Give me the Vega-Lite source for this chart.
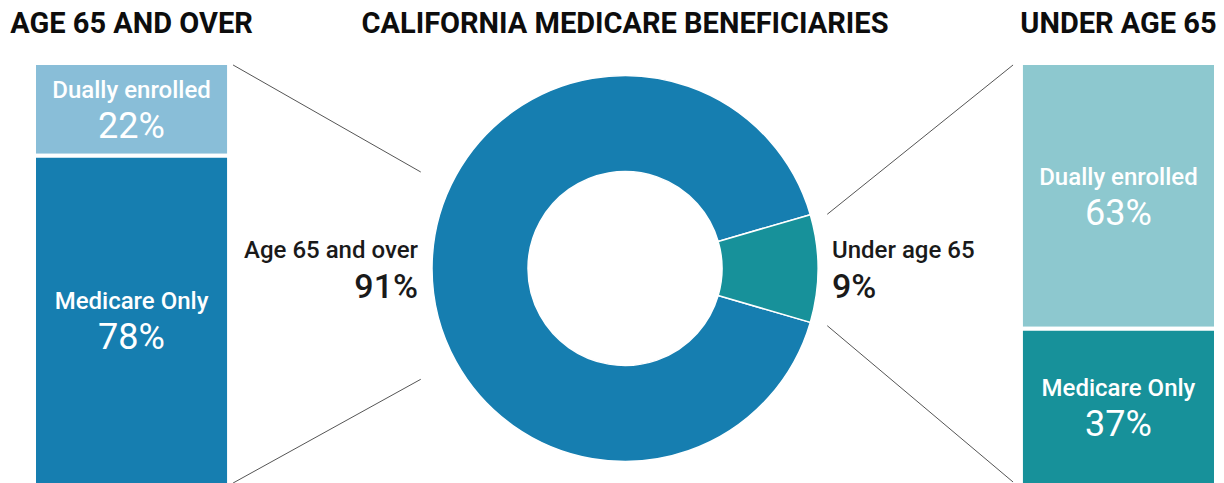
{
  "$schema": "https://vega.github.io/schema/vega-lite/v6.json",
  "width": 1182,
  "height": 422,
  "autosize": "none",
  "padding": {"left": 34, "top": 63, "right": 8, "bottom": 0},
  "background": "white",
  "config": {"view": {"stroke": null}, "font": "Roboto"},
  "datasets": {
    "split": [
      {"group": "Age 65 and over", "category": "Dually enrolled", "segment": "Age 65 and over: Dually enrolled", "share": 0.22},
      {"group": "Age 65 and over", "category": "Medicare Only", "segment": "Age 65 and over: Medicare Only", "share": 0.78},
      {"group": "Under age 65", "category": "Dually enrolled", "segment": "Under age 65: Dually enrolled", "share": 0.63},
      {"group": "Under age 65", "category": "Medicare Only", "segment": "Under age 65: Medicare Only", "share": 0.37}
    ],
    "total": [
      {"group": "Age 65 and over", "share": 0.91},
      {"group": "Under age 65", "share": 0.09}
    ],
    "links": [
      {"link": "Age 65 and over top", "x_from": 0.1684, "y_from": 0.9953, "x_to": 0.3272, "y_to": 0.7417},
      {"link": "Age 65 and over bottom", "x_from": 0.1684, "y_from": 0.0047, "x_to": 0.3272, "y_to": 0.2505},
      {"link": "Under age 65 top", "x_from": 0.6711, "y_from": 0.6415, "x_to": 0.8283, "y_to": 0.9953},
      {"link": "Under age 65 bottom", "x_from": 0.6711, "y_from": 0.3775, "x_to": 0.8283, "y_to": 0.0071}
    ]
  },
  "resolve": {"scale": {"x": "independent"}},
  "layer": [
    {
      "data": {"name": "links"},
      "mark": {"type": "rule", "color": "#555555", "strokeWidth": 1},
      "encoding": {
        "x": {"field": "x_from", "type": "quantitative", "scale": {"domain": [0, 1], "nice": false, "zero": false}, "axis": null},
        "x2": {"field": "x_to"},
        "y": {"field": "y_from", "type": "quantitative", "axis": null},
        "y2": {"field": "y_to"}
      }
    },
    {
      "layer": [
        {
          "data": {"name": "split"},
          "mark": {"type": "bar", "stroke": "white", "strokeWidth": 4},
          "encoding": {
            "x": {
              "field": "group",
              "type": "nominal",
              "scale": {"domain": ["Age 65 and over", "California Medicare beneficiaries", "Under age 65"], "paddingInner": 0.6047, "paddingOuter": 0},
              "axis": {"orient": "top", "domain": false, "ticks": false, "grid": false, "title": null, "labelAngle": 0, "labelExpr": "upper(datum.label)", "labelFont": "Roboto", "labelFontSize": 29, "labelFontWeight": "bold", "labelColor": "#0d0d0d", "labelPadding": 31, "labelBaseline": "alphabetic", "labelLimit": 0, "labelOverlap": false}
            },
            "y": {"field": "share", "type": "quantitative", "stack": "zero", "scale": {"domain": [0, 1], "nice": false}, "axis": null},
            "color": {
              "field": "segment",
              "type": "nominal",
              "scale": {
                "domain": ["Age 65 and over", "Under age 65", "Age 65 and over: Dually enrolled", "Age 65 and over: Medicare Only", "Under age 65: Dually enrolled", "Under age 65: Medicare Only"],
                "range": ["#167eb0", "#17919a", "#89bed8", "#167eb0", "#8dc8cf", "#17919a"]
              },
              "legend": null
            },
            "order": {"field": "category", "sort": "descending"}
          }
        },
        {
          "data": {"name": "split"},
          "mark": {"type": "text", "font": "Roboto", "fontSize": 24, "fontWeight": 500, "color": "white", "baseline": "alphabetic", "dy": -11},
          "encoding": {
            "x": {"field": "group", "type": "nominal"},
            "y": {"field": "share", "type": "quantitative", "stack": "zero", "bandPosition": 0.5, "axis": null},
            "detail": {"field": "category"},
            "order": {"field": "category", "sort": "descending"},
            "text": {"field": "category"}
          }
        },
        {
          "data": {"name": "split"},
          "mark": {"type": "text", "font": "Roboto", "fontSize": 36, "fontWeight": 400, "color": "white", "baseline": "alphabetic", "dy": 29},
          "encoding": {
            "x": {"field": "group", "type": "nominal"},
            "y": {"field": "share", "type": "quantitative", "stack": "zero", "bandPosition": 0.5, "axis": null},
            "detail": {"field": "category"},
            "order": {"field": "category", "sort": "descending"},
            "text": {"field": "share", "type": "quantitative", "format": ".0%"}
          }
        },
        {
          "data": {"name": "total"},
          "mark": {"type": "arc", "outerRadius": 193, "innerRadius": 97, "stroke": "white", "strokeWidth": 1.5},
          "encoding": {
            "x": {"datum": "California Medicare beneficiaries", "type": "nominal"},
            "y": {"datum": 0.513, "type": "quantitative", "axis": null},
            "theta": {"field": "share", "type": "quantitative", "stack": "zero", "scale": {"range": [1.2881, 7.5713]}},
            "color": {"field": "group", "type": "nominal", "legend": null},
            "order": {"field": "share", "sort": "ascending"}
          }
        },
        {
          "data": {"name": "total"},
          "mark": {"type": "text", "radius": 207, "font": "Roboto", "fontSize": 24, "fontWeight": 500, "color": "#1a1a1a", "baseline": "alphabetic", "dy": -11, "align": {"expr": "datum.group == 'Age 65 and over' ? 'right' : 'left'"}},
          "encoding": {
            "x": {"datum": "California Medicare beneficiaries", "type": "nominal"},
            "y": {"datum": 0.513, "type": "quantitative", "axis": null},
            "theta": {"field": "share", "type": "quantitative", "stack": "zero"},
            "detail": {"field": "group"},
            "order": {"field": "share", "sort": "ascending"},
            "text": {"field": "group"}
          }
        },
        {
          "data": {"name": "total"},
          "mark": {"type": "text", "radius": 207, "font": "Roboto", "fontSize": 34, "fontWeight": 500, "color": "#1a1a1a", "baseline": "alphabetic", "dy": 29, "align": {"expr": "datum.group == 'Age 65 and over' ? 'right' : 'left'"}},
          "encoding": {
            "x": {"datum": "California Medicare beneficiaries", "type": "nominal"},
            "y": {"datum": 0.513, "type": "quantitative", "axis": null},
            "theta": {"field": "share", "type": "quantitative", "stack": "zero"},
            "detail": {"field": "group"},
            "order": {"field": "share", "sort": "ascending"},
            "text": {"field": "share", "type": "quantitative", "format": ".0%"}
          }
        }
      ]
    }
  ]
}
